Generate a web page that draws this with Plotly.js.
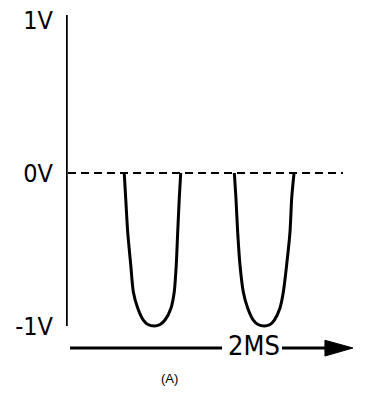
<!DOCTYPE html>
<html>
<head>
<meta charset="utf-8">
<script src="https://cdn.plot.ly/plotly-3.0.1.min.js"></script>
<style>html,body{margin:0;padding:0;background:#fff;}#chart{width:368px;height:411px;}</style>
</head>
<body>
<div id="chart"></div>
<script>
// Time in ms, voltage in V
var pulse1X = [0.403, 0.413, 0.427, 0.448, 0.466, 0.496, 0.535, 0.567, 0.611, 0.651, 0.685, 0.727, 0.749, 0.763, 0.773, 0.784, 0.794];
var pulse1Y = [0, -0.163, -0.386, -0.601, -0.778, -0.882, -0.961, -0.990, -1.0, -0.990, -0.961, -0.882, -0.778, -0.601, -0.386, -0.163, 0];
var pulse2X = [1.165, 1.176, 1.188, 1.204, 1.227, 1.257, 1.296, 1.329, 1.372, 1.412, 1.442, 1.481, 1.504, 1.527, 1.550, 1.562, 1.578];
var pulse2Y = [0, -0.163, -0.386, -0.601, -0.778, -0.882, -0.961, -0.990, -1.0, -0.990, -0.961, -0.882, -0.778, -0.601, -0.386, -0.163, 0];
var baselineX = [0.014, 1.917];
var baselineY = [0, 0];
var voltTicks = [1, 0, -1];
var voltLabels = ['1V', '0V', '-1V'];
var timeLabel = '2MS';
var captionText = '(A)';

var narrow = 'Liberation Sans Narrow, DejaVu Sans Condensed, Arial Narrow, sans-serif';

var traces = [
  {x: baselineX, y: baselineY, mode: 'lines', line: {color: '#000', width: 2, dash: '8px,5px'}, hoverinfo: 'skip'},
  {x: pulse1X, y: pulse1Y, mode: 'lines', line: {color: '#000', width: 3, shape: 'spline', smoothing: 0.7}, hoverinfo: 'skip'},
  {x: pulse2X, y: pulse2Y, mode: 'lines', line: {color: '#000', width: 3, shape: 'spline', smoothing: 0.7}, hoverinfo: 'skip'}
];

var layout = {
  width: 368, height: 411,
  margin: {l: 66, r: 13, t: 15, b: 61},
  paper_bgcolor: '#fff', plot_bgcolor: '#fff',
  showlegend: false,
  xaxis: {range: [0, 2], visible: false, fixedrange: true},
  yaxis: {range: [-1.157, 1.033], tickvals: voltTicks, ticktext: voltLabels,
          showgrid: false, zeroline: false, showline: false, ticks: '',
          ticklabelstandoff: 12,
          tickfont: {family: narrow, size: 25, color: '#000'}, fixedrange: true},
  shapes: [
    {type: 'line', xref: 'x', yref: 'y', x0: 0, x1: 0, y0: -1.0, y1: 1.033, line: {color: '#000', width: 3.5}},
    {type: 'line', xref: 'x', yref: 'paper', x0: 0.028, x1: 1.08, y0: 0.006, y1: 0.006, line: {color: '#000', width: 3}},
    {type: 'line', xref: 'x', yref: 'paper', x0: 1.495, x1: 1.81, y0: 0.006, y1: 0.006, line: {color: '#000', width: 3}},
    {type: 'path', xref: 'x', yref: 'paper', path: 'M 1.792 0.029 L 1.792 -0.018 L 1.986 0.006 Z', fillcolor: '#000', line: {color: '#000', width: 1}}
  ],
  annotations: [
    {x: 1.298, y: 0.012, xref: 'x', yref: 'paper', text: timeLabel, showarrow: false, xanchor: 'center', yanchor: 'middle',
     font: {family: narrow, size: 27, color: '#000'}},
    {x: 0.713, y: -0.084, xref: 'x', yref: 'paper', text: captionText, showarrow: false, xanchor: 'center', yanchor: 'middle',
     font: {family: 'Liberation Sans, Arial, sans-serif', size: 13, color: '#000'}}
  ]
};

Plotly.newPlot('chart', traces, layout, {staticPlot: true, displayModeBar: false});
</script>
</body>
</html>
